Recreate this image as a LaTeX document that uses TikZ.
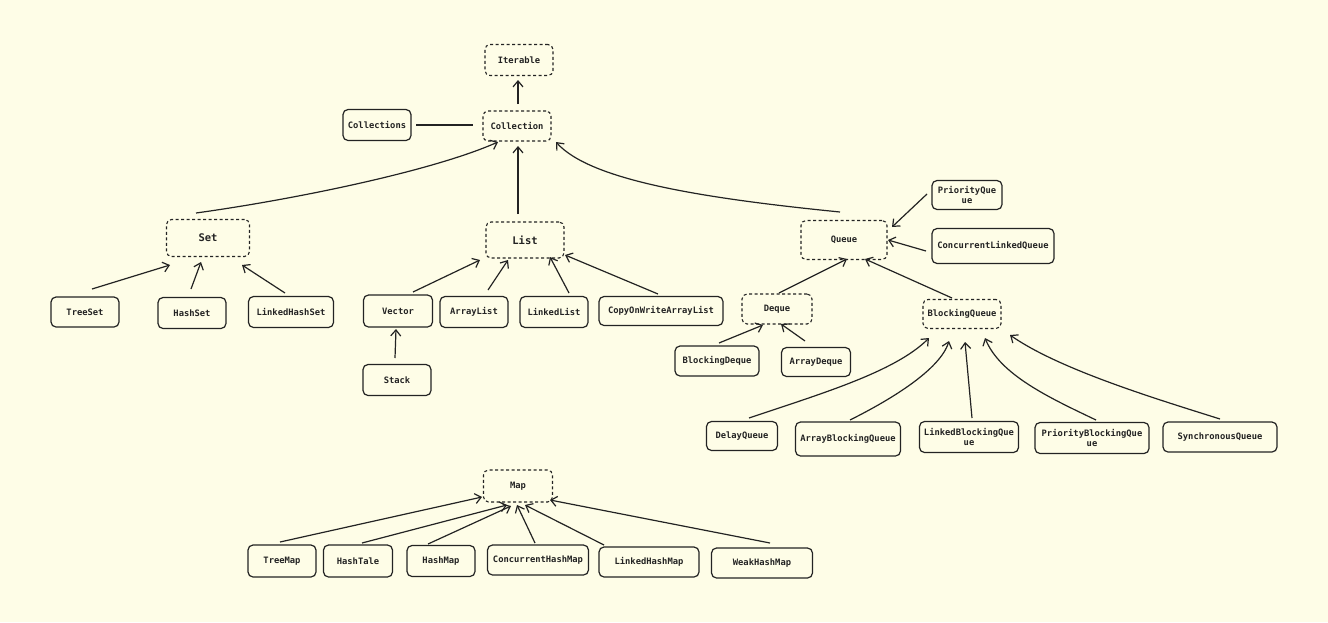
\documentclass[tikz,border=0pt]{standalone}
\usepackage{fontspec}
\setmonofont{DejaVu Sans Mono}
\usetikzlibrary{arrows.meta,calc}
\definecolor{bg}{RGB}{254,253,231}
\definecolor{ink}{RGB}{35,35,35}
\begin{document}
\begin{tikzpicture}[x=1pt,y=-1pt,
 every node/.style={font=\ttfamily\bfseries\fontsize{8.8}{10}\selectfont, text=ink},
 cls/.style={draw=ink, line width=1.2pt, rounded corners=5pt, inner sep=0pt, align=center},
 abs/.style={cls, dash pattern=on 3pt off 2.5pt, line width=1.1pt},
 big/.style={font=\ttfamily\bfseries\fontsize{10.5}{12}\selectfont},
 arr/.style={draw=ink, line width=1.2pt, -{Straight Barb[length=6pt,width=10pt]}},
 ln/.style={draw=ink, line width=1.2pt}]
\fill[bg] (0,0) rectangle (1328,622);
\useasboundingbox (0,0) rectangle (1328,622);
% abstract nodes
\node[abs, minimum width=68pt, minimum height=31pt] (iter) at (519,60) {Iterable};
\node[abs, minimum width=68pt, minimum height=30pt] (coll) at (517,126) {Collection};
\node[cls, minimum width=68pt, minimum height=31pt] (colls) at (377,125) {Collections};
\node[abs, big, minimum width=83pt, minimum height=37pt] (set) at (208,238) {Set};
\node[abs, big, minimum width=78pt, minimum height=36pt] (list) at (525,240) {List};
\node[abs, minimum width=86pt, minimum height=39pt] (queue) at (844,240) {Queue};
\node[cls, minimum width=70pt, minimum height=29pt] (pq) at (967,195) {PriorityQue\\ue};
\node[cls, minimum width=122pt, minimum height=35pt] (clq) at (993,246) {ConcurrentLinkedQueue};
% Set children
\node[cls, minimum width=68pt, minimum height=30pt] (treeset) at (85,312) {TreeSet};
\node[cls, minimum width=68pt, minimum height=31pt] (hashset) at (192,313) {HashSet};
\node[cls, minimum width=85pt, minimum height=31pt] (lhs) at (291,312) {LinkedHashSet};
% List children
\node[cls, minimum width=69pt, minimum height=32pt] (vector) at (398,311) {Vector};
\node[cls, minimum width=68pt, minimum height=31pt] (arraylist) at (474,312) {ArrayList};
\node[cls, minimum width=68pt, minimum height=31pt] (linkedlist) at (554,312) {LinkedList};
\node[cls, minimum width=124pt, minimum height=29pt] (cow) at (661,311) {CopyOnWriteArrayList};
\node[cls, minimum width=68pt, minimum height=31pt] (stack) at (397,380) {Stack};
% Queue children
\node[abs, minimum width=70pt, minimum height=30pt] (deque) at (777,309) {Deque};
\node[abs, minimum width=78pt, minimum height=29pt] (bq) at (962,314) {BlockingQueue};
\node[cls, minimum width=84pt, minimum height=30pt] (bd) at (717,361) {BlockingDeque};
\node[cls, minimum width=69pt, minimum height=29pt] (ad) at (816,362) {ArrayDeque};
\node[cls, minimum width=71pt, minimum height=29pt] (dq) at (742,436) {DelayQueue};
\node[cls, minimum width=105pt, minimum height=34pt] (abq) at (848,439) {ArrayBlockingQueue};
\node[cls, minimum width=99pt, minimum height=31pt] (lbq) at (969,437) {LinkedBlockingQue\\ue};
\node[cls, minimum width=114pt, minimum height=31pt] (pbq) at (1092,438) {PriorityBlockingQue\\ue};
\node[cls, minimum width=114pt, minimum height=30pt] (sq) at (1220,437) {SynchronousQueue};
% Map
\node[abs, minimum width=69pt, minimum height=32pt] (map) at (518,486) {Map};
\node[cls, minimum width=68pt, minimum height=32pt] (treemap) at (282,561) {TreeMap};
\node[cls, minimum width=69pt, minimum height=32pt] (hashtale) at (358,561) {HashTale};
\node[cls, minimum width=68pt, minimum height=31pt] (hashmap) at (441,561) {HashMap};
\node[cls, minimum width=101pt, minimum height=30pt] (chm) at (538,560) {ConcurrentHashMap};
\node[cls, minimum width=100pt, minimum height=30pt] (lhm) at (649,562) {LinkedHashMap};
\node[cls, minimum width=101pt, minimum height=30pt] (whm) at (762,563) {WeakHashMap};
% connectors
\draw[arr] ($(coll)+(1,-22)$) -- ($(iter)+(-1,20)$);
\draw[ln] ($(colls)+(39,0)$) -- ($(coll)+(-44,-1)$);
\draw[arr] ($(set)+(-12,-25)$) .. controls +(94,-13) and +(-68,30) .. ($(coll)+(-19,16)$);
\draw[arr] ($(list)+(-7,-26)$) -- ($(coll)+(1,20)$);
\draw[arr] ($(queue)+(-4,-28)$) .. controls +(-140,-14) and +(34,38) .. ($(coll)+(39,16)$);
\draw[arr] ($(treeset)+(7,-23)$) -- ($(set)+(-38,27)$);
\draw[arr] ($(hashset)+(-1,-24)$) -- ($(set)+(-7,24)$);
\draw[arr] ($(lhs)+(-6,-19)$) -- ($(set)+(34,27)$);
\draw[arr] ($(vector)+(15,-19)$) -- ($(list)+(-45,20)$);
\draw[arr] ($(arraylist)+(14,-22)$) -- ($(list)+(-17,20)$);
\draw[arr] ($(linkedlist)+(15,-19)$) -- ($(list)+(25,17)$);
\draw[arr] ($(cow)+(-3,-17)$) -- ($(list)+(40,15)$);
\draw[arr] ($(stack)+(-2,-22)$) -- ($(vector)+(-2,18)$);
\draw[arr] ($(pq)+(-40,-1)$) -- ($(queue)+(48,-13)$);
\draw[arr] ($(clq)+(-67,5)$) -- ($(queue)+(44,0)$);
\draw[arr] ($(deque)+(2,-16)$) -- ($(queue)+(3,19)$);
\draw[arr] ($(bq)+(-10,-16)$) -- ($(queue)+(21,19)$);
\draw[arr] ($(bd)+(2,-18)$) -- ($(deque)+(-14,16)$);
\draw[arr] ($(ad)+(-11,-21)$) -- ($(deque)+(4,15)$);
\draw[arr] ($(dq)+(7,-18)$) .. controls +(71,-24) and +(-34,34) .. ($(bq)+(-33,24)$);
\draw[arr] ($(abq)+(2,-19)$) .. controls +(40,-20) and +(-9,29) .. ($(bq)+(-13,27)$);
\draw[arr] ($(lbq)+(3,-19)$) -- ($(bq)+(3,28)$);
\draw[arr] ($(pbq)+(4,-18)$) .. controls +(-46,-22) and +(15,37) .. ($(bq)+(23,24)$);
\draw[arr] ($(sq)+(0,-18)$) .. controls +(-60,-19) and +(50,35) .. ($(bq)+(48,21)$);
\draw[arr] ($(treemap)+(-2,-19)$) -- ($(map)+(-36,11)$);
\draw[arr] ($(hashtale)+(4,-18)$) -- ($(map)+(-11,19)$);
\draw[arr] ($(hashmap)+(-13,-17)$) -- ($(map)+(-7,20)$);
\draw[arr] ($(chm)+(-3,-17)$) -- ($(map)+(-1,19)$);
\draw[arr] ($(lhm)+(-45,-17)$) -- ($(map)+(7,19)$);
\draw[arr] ($(whm)+(8,-20)$) -- ($(map)+(32,14)$);
\end{tikzpicture}
\end{document}
